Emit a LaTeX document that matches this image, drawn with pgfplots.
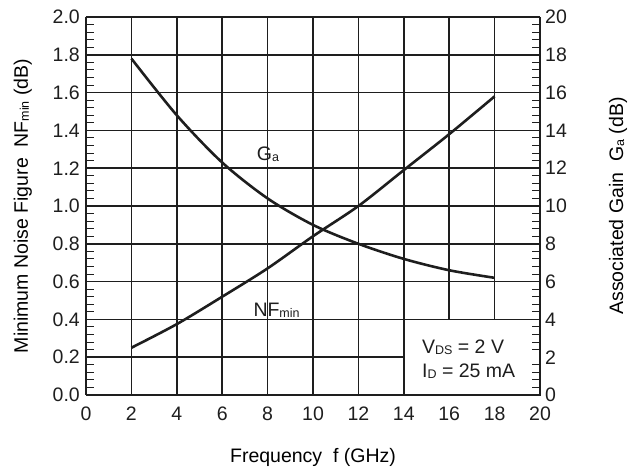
\documentclass[border=0pt]{standalone}
\usepackage{fontspec}
\setmainfont{Liberation Sans}
\usepackage{pgfplots}
\pgfplotsset{compat=1.18}
\newcommand\sub[1]{\raisebox{-1bp}{\fontsize{12.5bp}{13bp}\selectfont #1}}
\definecolor{ink}{HTML}{1E1E1E}
\pgfplotsset{
  mystyle/.style={
    scale only axis, width=454bp, height=378bp,
    xmin=0, xmax=20,
    /pgf/number format/assume math mode=true,
    axis line style={ink, line width=2pt},
    tick style={ink, line width=1pt},
    major tick length=0pt, minor tick length=8bp,
    tick align=inside,
    ticklabel style={font=\fontsize{19.5bp}{23bp}\selectfont, text=ink, inner sep=0pt},
    label style={font=\fontsize{19.5bp}{23bp}\selectfont, text=ink},
  }
}
\begin{document}
\fontsize{19.5bp}{23bp}\selectfont
\begin{tikzpicture}[x=1bp,y=1bp]
\useasboundingbox (-86,-73) rectangle (547,395);
\begin{axis}[
  mystyle,
  ymin=0, ymax=2,
  xtick={0,2,...,20},
  ytick={0,0.2,...,2.0},
  minor y tick num=4,
  yticklabel style={/pgf/number format/fixed, /pgf/number format/fixed zerofill, /pgf/number format/precision=1, anchor=east, xshift=-6bp},
  xticklabel style={anchor=north, yshift=-12bp},
  grid=major,
  major grid style={ink, line width=1.5pt},
  axis y line*=left, axis x line*=bottom,
  xlabel={Frequency\ \ f (GHz)},
  ylabel={Minimum Noise Figure\ \ NF\sub{min} (dB)},
  every axis x label/.style={at={(axis description cs:0.5,0)}, yshift=-67bp, anchor=base},
  every axis y label/.style={at={(axis description cs:0,0.5)}, xshift=-58bp, rotate=90, anchor=base},
  clip=false,
]
\addplot[ink, line width=2.6pt, smooth] coordinates {
 (2,0.25) (4,0.375) (6,0.52) (8,0.67) (10,0.84) (12,1.0) (14,1.19) (16,1.38) (18,1.58)};
\node[text=ink, anchor=base west, inner sep=0pt] at (axis cs:7.52,1.24) {G\sub{a}};
\node[text=ink, anchor=base west, inner sep=0pt] at (axis cs:7.37,0.414) {NF\sub{min}};
\draw[ink, line width=1.5pt, fill=white] (axis cs:14,0) rectangle (axis cs:20,0.4);
\node[text=ink, anchor=base west, inner sep=0pt] at (axis cs:14.8,0.222) {V\sub{DS} = 2 V};
\node[text=ink, anchor=base west, inner sep=0pt] at (axis cs:14.8,0.09) {I\sub{D} = 25 mA};
\draw[ink, line width=2pt] (axis cs:0,0) -- (axis cs:20,0);
\draw[ink, line width=2pt] (axis cs:0,2) -- (axis cs:20,2);
\end{axis}
\begin{axis}[
  mystyle,
  ymin=0, ymax=20,
  ytick={0,2,...,20},
  minor y tick num=4,
  yticklabel style={anchor=west, xshift=5bp},
  axis y line*=right, axis x line=none,
  ylabel={Associated Gain\ \ G\sub{a} (dB)},
  every axis y label/.style={at={(axis description cs:1,0.5)}, xshift=83bp, rotate=90, anchor=base},
]
\addplot[ink, line width=2.6pt, smooth] coordinates {
 (2,17.8) (4,14.8) (6,12.3) (8,10.4) (10,9.0) (12,8.0) (14,7.2) (16,6.6) (18,6.2)};
\end{axis}
\end{tikzpicture}
\end{document}
